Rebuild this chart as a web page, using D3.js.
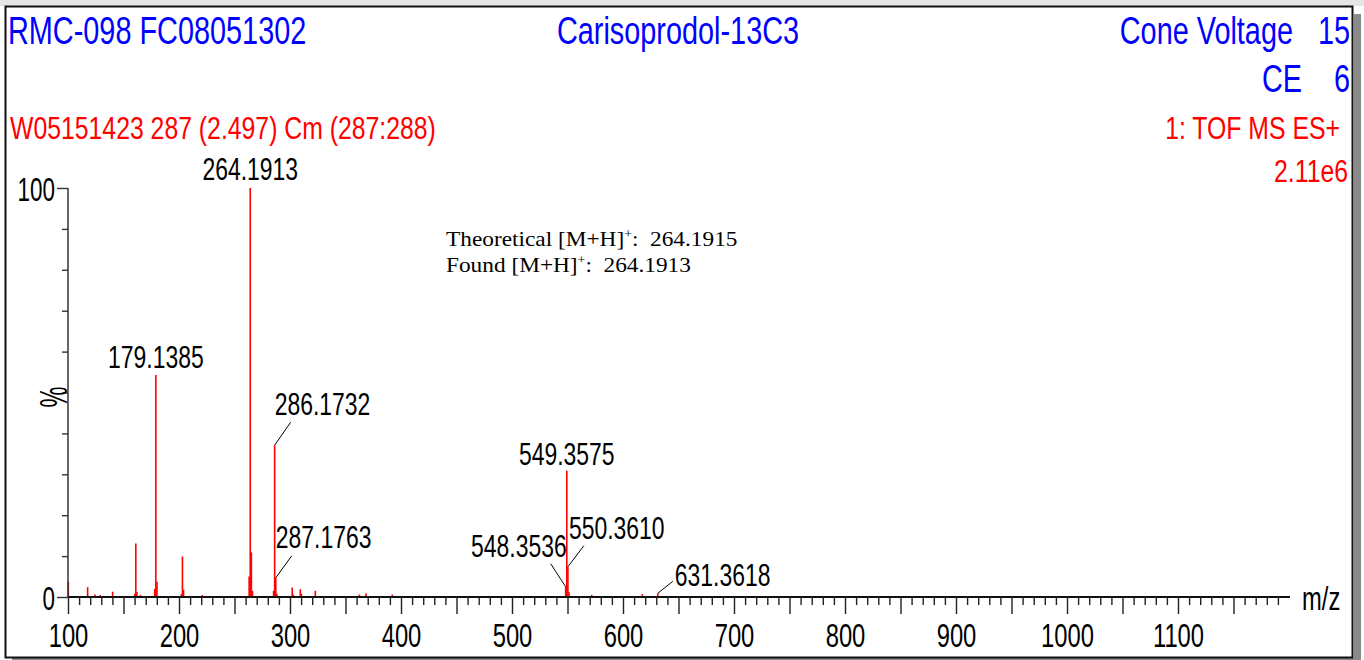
<!DOCTYPE html>
<html>
<head>
<meta charset="utf-8">
<script src="https://cdn.jsdelivr.net/npm/d3@7"></script>
<style>
  body { margin: 0; background: #fff; }
  svg { display: block; font-family: "Liberation Sans", Arial, sans-serif; }
</style>
</head>
<body>
<div id="chart"></div>
<script>
var width = 1364;
var height = 660;

// peak list: m/z and relative intensity (%)
const peakMz = [100.3, 117.7, 124.3, 129.0, 140.2, 160.1, 161.1, 162.1, 165.2,
    178.1, 179.14, 180.14, 202.1, 203.1, 204.1, 221.0,
    263.2, 264.19, 265.19, 266.2, 285.2, 286.17, 287.18, 288.2,
    302.0, 303.0, 309.3, 310.3, 322.8, 362.5, 368.5, 392.2,
    548.35, 549.36, 550.36, 551.36, 571.8, 617.4, 631.36];
const peakInt = [3.7, 2.4, 0.6, 0.5, 1.3, 0.8, 13.1, 1.2, 0.5,
    2.0, 54.3, 3.7, 0.7, 9.9, 1.8, 0.5,
    5.0, 100, 10.9, 1.5, 1.5, 37.1, 4.7, 0.8,
    2.3, 0.6, 1.9, 0.8, 1.5, 0.6, 0.9, 0.6,
    2.5, 30.9, 7.4, 1.2, 0.5, 0.7, 0.9];

// labelled peaks
const labelMz = [264.1913, 179.1385, 549.3575, 286.1732, 287.1763, 548.3536, 550.3610, 631.3618];
const labelText = ["264.1913", "179.1385", "549.3575", "286.1732", "287.1763", "548.3536", "550.3610", "631.3618"];
const labelInt = [100, 54.3, 30.9, 37.1, 4.7, 2.5, 7.4, 0.9];

const xTicks = d3.range(100, 1200, 10);
const yTicks = d3.range(0, 101, 10);

// label placement relative to the peak top (anchor, text offset, leader end)
const labelLayout = [
    { anchor: "middle", dx: 0, dy: -8, leader: null },
    { anchor: "middle", dx: 0, dy: -7, leader: null },
    { anchor: "middle", dx: 0, dy: -6, leader: null },
    { anchor: "start", dx: 0, dy: -30, leader: [16, -23] },
    { anchor: "start", dx: 0, dy: -30, leader: [16, -22] },
    { anchor: "end", dx: 1, dy: -30, leader: [-15, -23] },
    { anchor: "start", dx: 1, dy: -28, leader: [16, -21] },
    { anchor: "start", dx: 17, dy: -7, leader: [15, -12] }
];

var svg = d3.select("#chart").append("svg")
    .attr("width", width)
    .attr("height", height);

// faint grey band above the frame
svg.append("rect").attr("x", 0).attr("y", 0).attr("width", width).attr("height", 6).attr("fill", "#e6e6e6");

// frame with drop shadow
svg.append("rect").attr("x", 1354).attr("y", 14).attr("width", 7).attr("height", 646).attr("fill", "#8a8a8a");
svg.append("rect").attr("x", 12).attr("y", 658).attr("width", 1349).attr("height", 2).attr("fill", "#8a8a8a");
svg.append("rect")
    .attr("x", 5.5).attr("y", 6.5)
    .attr("width", 1347).attr("height", 651)
    .attr("fill", "white")
    .attr("stroke", "#111")
    .attr("stroke-width", 2);

// narrow text helper (the instrument font is condensed)
function addText(x, y, str, size, sx, color, anchor) {
    return svg.append("text")
        .attr("transform", "translate(" + x + "," + y + ") scale(" + sx + ",1)")
        .attr("text-anchor", anchor || "start")
        .attr("font-size", size)
        .attr("fill", color)
        .text(str);
}

// header
addText(8, 44, "RMC-098 FC08051302", 39, 0.74, "#0000ff");
addText(678, 44, "Carisoprodol-13C3", 39, 0.74, "#0000ff", "middle");
addText(1293, 44, "Cone Voltage", 39, 0.74, "#0000ff", "end");
addText(1350, 44, "15", 39, 0.74, "#0000ff", "end");
addText(1302, 92, "CE", 39, 0.74, "#0000ff", "end");
addText(1350, 92, "6", 39, 0.74, "#0000ff", "end");
addText(10, 139, "W05151423 287 (2.497) Cm (287:288)", 31, 0.8, "#ff0000");
addText(1340, 139, "1: TOF MS ES+", 31, 0.8, "#ff0000", "end");
addText(1348, 182, "2.11e6", 31, 0.8, "#ff0000", "end");

// scales
var x = d3.scaleLinear().domain([100, 1200]).range([68, 1289]);
var y = d3.scaleLinear().domain([0, 100]).range([597, 188]);

// peaks
svg.append("g").selectAll("line")
    .data(peakMz)
    .enter().append("line")
    .attr("x1", function (d) { return x(d); })
    .attr("x2", function (d) { return x(d); })
    .attr("y1", y(0))
    .attr("y2", function (d, i) { return y(peakInt[i]); })
    .attr("stroke", "#ff0000")
    .attr("stroke-width", 1.6);

// x axis
var xAxis = svg.append("g")
    .attr("transform", "translate(0," + y(0) + ")")
    .call(d3.axisBottom(x)
        .tickValues(xTicks)
        .tickSize(8)
        .tickSizeOuter(0)
        .tickFormat(function (d) { return d % 100 === 0 ? d : ""; }));
xAxis.select(".domain").attr("stroke", "#111").attr("stroke-width", 2).attr("d", "M68,0H1290");
xAxis.selectAll(".tick line")
    .attr("stroke", "#222")
    .attr("stroke-width", 1.4)
    .attr("y2", function (d) { return d % 50 === 0 ? 17 : 8; });
xAxis.selectAll(".tick text")
    .attr("y", 0).attr("dy", 0)
    .attr("transform", "translate(0,50) scale(0.7,1)")
    .attr("font-size", 34)
    .attr("font-family", "Liberation Sans, Arial, sans-serif")
    .attr("fill", "#000");

addText(1302, 610, "m/z", 33, 0.72, "#000");

// y axis
var yAxis = svg.append("g")
    .attr("transform", "translate(68,0)")
    .call(d3.axisLeft(y)
        .tickValues(yTicks)
        .tickSize(6)
        .tickSizeOuter(0)
        .tickFormat(function (d) { return d === 0 || d === 100 ? d : ""; }));
yAxis.select(".domain").attr("stroke", "#333").attr("stroke-width", 1.5).attr("d", "M0,188V597");
yAxis.selectAll(".tick line")
    .attr("stroke", "#333")
    .attr("stroke-width", 1.4)
    .attr("x2", function (d) { return d === 0 || d === 100 ? -11 : -6; });
yAxis.selectAll(".tick text")
    .attr("x", 0).attr("dy", 0)
    .attr("transform", "translate(-13,12) scale(0.66,1)")
    .attr("font-size", 34)
    .attr("font-family", "Liberation Sans, Arial, sans-serif")
    .attr("fill", "#000");

svg.append("text")
    .attr("transform", "translate(67,397) rotate(-90) scale(0.62,1)")
    .attr("text-anchor", "middle")
    .attr("font-size", 38)
    .attr("fill", "#000")
    .text("%");

// peak labels and leaders
var lab = svg.append("g");
labelMz.forEach(function (mz, i) {
    var px = x(mz), py = y(labelInt[i]);
    var lay = labelLayout[i];
    if (lay.leader) {
        lab.append("line")
            .attr("x1", px).attr("y1", py)
            .attr("x2", px + lay.leader[0]).attr("y2", py + lay.leader[1])
            .attr("stroke", "#000")
            .attr("stroke-width", 1);
    }
    lab.append("text")
        .attr("transform", "translate(" + (px + lay.dx) + "," + (py + lay.dy) + ") scale(0.74,1)")
        .attr("text-anchor", lay.anchor)
        .attr("font-size", 31)
        .attr("fill", "#000")
        .text(labelText[i]);
});

// accurate mass note
var note = svg.append("g")
    .attr("transform", "translate(446,0) scale(1.06,1)")
    .attr("font-family", "Liberation Serif, Times New Roman, serif")
    .attr("font-size", 22)
    .attr("fill", "#000");
var t1 = note.append("text").attr("x", 0).attr("y", 246).attr("xml:space", "preserve");
t1.append("tspan").text("Theoretical [M+H]");
t1.append("tspan").attr("font-size", 13).attr("dy", -8).text("+");
t1.append("tspan").attr("dy", 8).text(":  264.1915");
var t2 = note.append("text").attr("x", 0).attr("y", 272).attr("xml:space", "preserve");
t2.append("tspan").text("Found [M+H]");
t2.append("tspan").attr("font-size", 13).attr("dy", -8).text("+");
t2.append("tspan").attr("dy", 8).text(":  264.1913");
</script>
</body>
</html>
